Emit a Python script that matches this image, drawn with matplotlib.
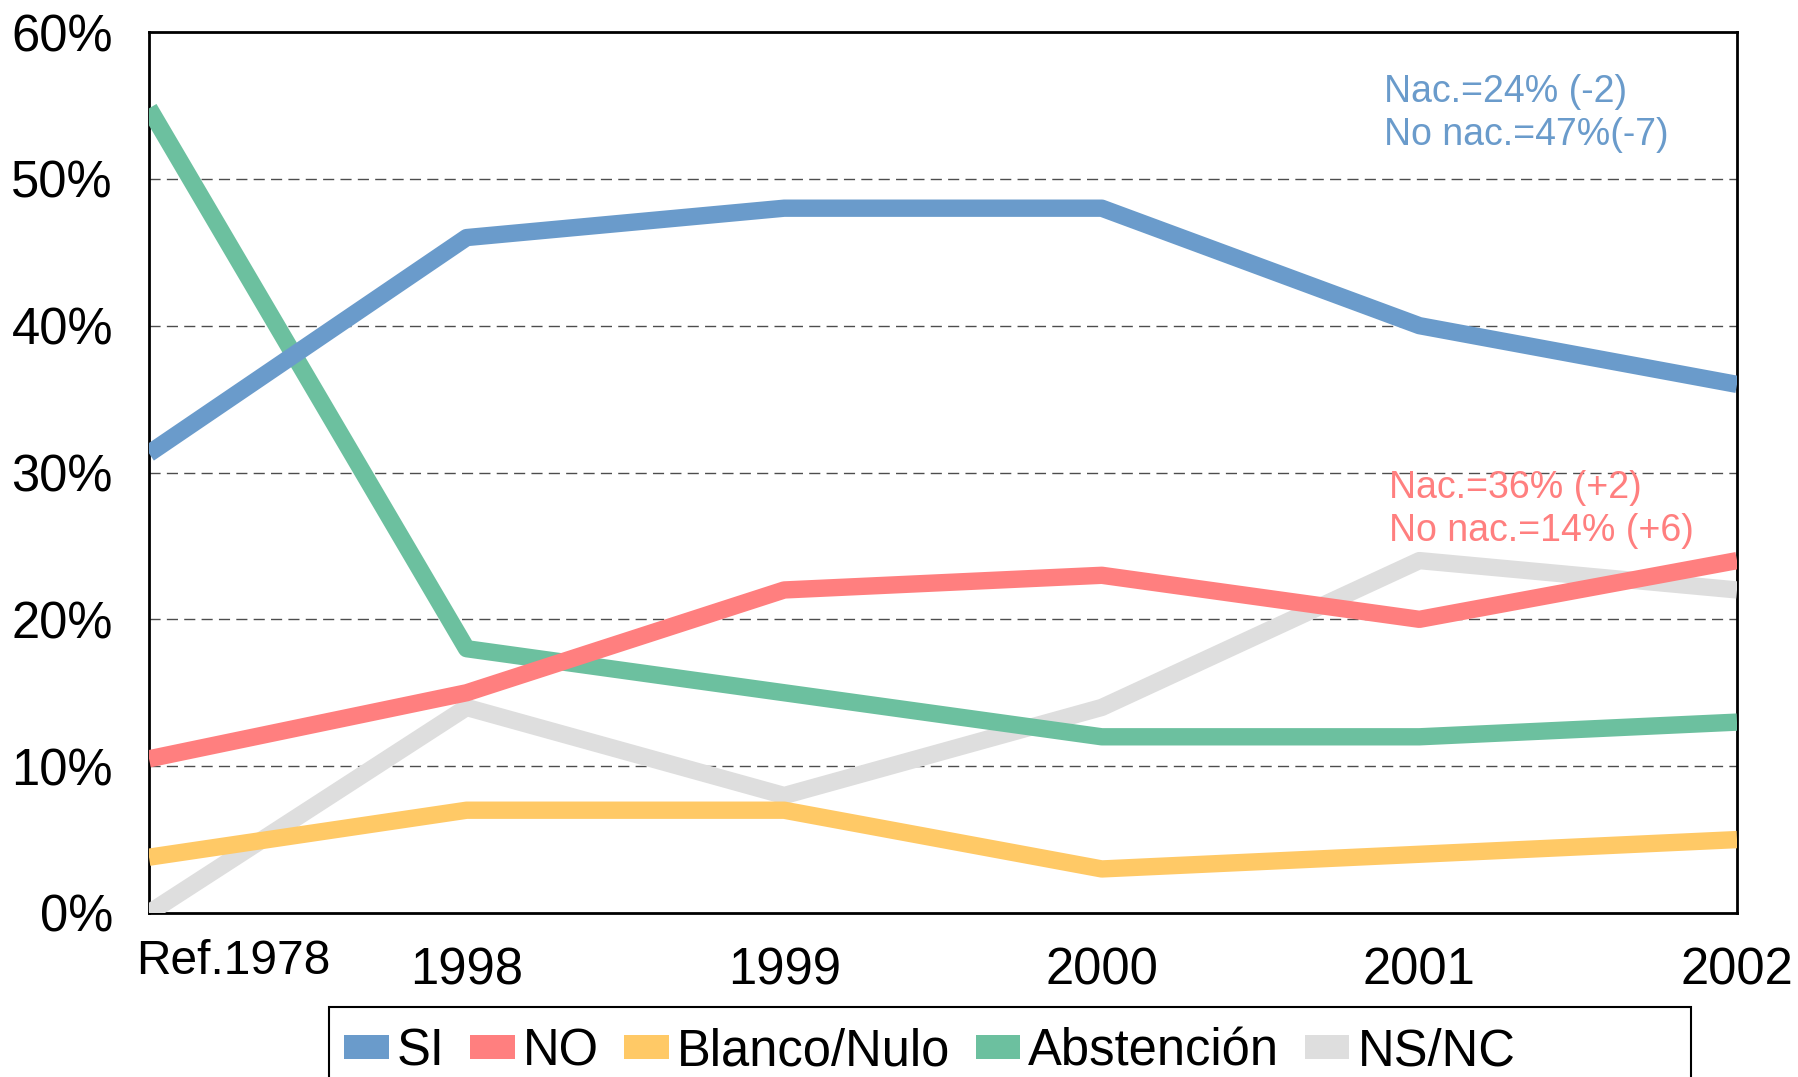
import numpy as np
import matplotlib.pyplot as plt
import matplotlib.transforms as mtransforms
from matplotlib.patches import Patch, Rectangle

plt.rcParams['font.family'] = ['Liberation Sans', 'DejaVu Sans']

# data (percent)
years = ['Ref.1978', '1998', '1999', '2000', '2001', '2002']
si = [31.3, 46, 48, 48, 40, 36]
no = [10.5, 15, 22, 23, 20, 24]
blanco = [3.8, 7, 7, 3, 4, 5]
abstencion = [54.8, 18, 15, 12, 12, 13]
nsnc = [0, 14, 8, 14, 24, 22]

names = ['SI', 'NO', 'Blanco/Nulo', 'Abstención', 'NS/NC']
colors = ['#6A9BCB', '#FF7F7F', '#FFC966', '#6CC09F', '#DEDEDE']
series = [si, no, blanco, abstencion, nsnc]

fig = plt.figure(figsize=(17.98, 10.77), dpi=100)
ax = fig.add_axes([149/1798, 164/1077, 1588/1798, 881/1077])

x = np.arange(len(years))
# draw last series first so SI ends on top
for vals, c in reversed(list(zip(series, colors))):
    ax.plot(x, vals, color=c, lw=12.5, solid_capstyle='butt', zorder=3)

ax.set_xlim(0, len(years) - 1)
ax.set_ylim(0, 60)
for g in [10, 20, 30, 40, 50]:
    ax.axhline(g, color='#4d4d4d', lw=1.0, ls=(0, (8, 4.5)), zorder=1)

ax.set_yticks(np.arange(0, 61, 10))
ax.set_yticklabels(['%d%%' % v for v in range(0, 61, 10)])
ax.set_xticks(x)
ax.set_xticklabels(years)
ax.tick_params(axis='both', length=0, labelsize=36.5)
ax.tick_params(axis='y', pad=26)
ax.tick_params(axis='x', pad=24)
for s in ax.spines.values():
    s.set_linewidth(2)
    s.set_color('black')

# first category label sits left-aligned, a bit higher
lbl = ax.get_xticklabels()[0]
lbl.set_horizontalalignment('left')
lbl.set_fontsize(34.5)
lbl.set_transform(lbl.get_transform() + mtransforms.ScaledTranslation(-13/100, 7/100, fig.dpi_scale_trans))

ax.text(0.778, 0.908, 'Nac.=24% (-2)\nNo nac.=47%(-7)', transform=ax.transAxes,
        color=colors[0], fontsize=27, va='center', ha='left', linespacing=1.25)
ax.text(0.781, 0.458, 'Nac.=36% (+2)\nNo nac.=14% (+6)', transform=ax.transAxes,
        color=colors[1], fontsize=27, va='center', ha='left', linespacing=1.25)

handles = [Patch(facecolor=c, edgecolor='none', label=n) for n, c in zip(names, colors)]
leg = fig.legend(handles=handles, loc='upper left', bbox_to_anchor=(329/1798, 1 - 1012/1077),
                 ncol=5, fontsize=36.5, frameon=False, borderaxespad=0, borderpad=0.3,
                 handlelength=0.88, handleheight=0.34, handletextpad=0.16, columnspacing=0.5)
# legend box is wider than its entries and runs off the bottom edge
fig.patches.append(Rectangle((329/1798, -0.05), (1691 - 329)/1798, 0.05 + (1077 - 1007)/1077,
                             transform=fig.transFigure, fill=False, edgecolor='black', lw=1.5))

plt.savefig('out.png', dpi=100)
